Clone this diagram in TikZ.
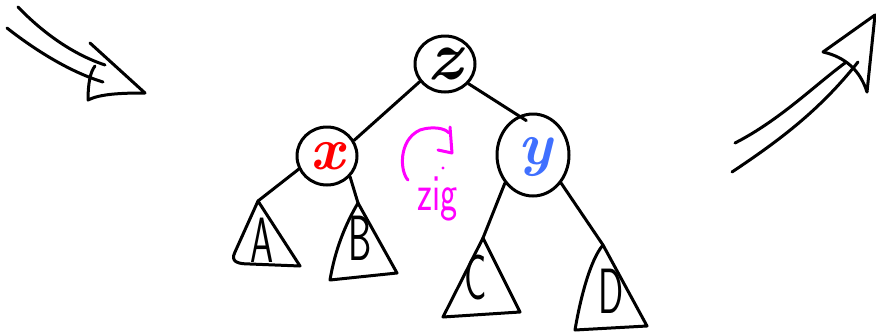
\documentclass[tikz,border=0pt]{standalone}
\usepackage{fontspec}
\usetikzlibrary{shapes.geometric}
\definecolor{xred}{RGB}{255,0,0}
\definecolor{yblue}{RGB}{64,112,255}
\definecolor{zigm}{RGB}{255,0,255}
\begin{document}
\begin{tikzpicture}[x=1pt,y=-1pt,
  ink/.style={line width=3pt,line cap=round,line join=round},
  treenode/.style={ellipse,draw,ink,inner sep=0pt},
  letter/.style={font=\fontsize{60}{60}\selectfont\bfseries\itshape,inner sep=0pt},
  lbl/.style={font=\fontsize{64}{64}\selectfont\sffamily,xscale=0.58,inner sep=0pt},
  edge/.style={ink}]
\useasboundingbox (0,0) rectangle (876,335);

% tree nodes
\node[treenode,minimum width=60pt,minimum height=56pt] (z) at (445,64) {};
\node[letter,font=\fontsize{70}{70}\selectfont\bfseries\itshape] (zl) at (445,64) {z};
\node[treenode,minimum width=60pt,minimum height=58pt] (x) at (327,156) {};
\node[letter,text=xred] (xl) at (327,156) {x};
\node[treenode,minimum width=72pt,minimum height=82pt] (y) at (533,155) {};
\node[letter,text=yblue] (yl) at (535,157) {y};

% subtree labels
\node[lbl] (A) at (262,240) {A};
\node[lbl] (B) at (360,238) {B};
\node[lbl] (C) at (476,278) {C};
\node[lbl] (D) at (611,291) {D};

% triangle apexes
\coordinate (Atop) at (258,201);
\coordinate (Btop) at (358,203);
\coordinate (Ctop) at (483,238);
\coordinate (Dtop) at (603,245);

% triangles
\draw[ink] (Atop) -- (235,252) .. controls (230,262) and (238,264) .. (250,264) -- (300,266) -- cycle;
\draw[ink] (Btop) .. controls (345,225) and (335,250) .. (330,280) -- (397,273) -- cycle;
\draw[ink] (Ctop) -- (443,317) -- (520,312) -- cycle;
\draw[ink] (Dtop) .. controls (590,260) and (580,300) .. (575,330) -- (647,326) -- cycle;

% edges
\draw[edge] (z.215) -- (x.30);
\draw[edge,shorten >=-9pt] (z.320) -- (y.110);
\draw[edge] (x.205) -- (Atop);
\draw[edge] (x.318) -- (Btop);
\draw[edge] (y.225) -- (Ctop);
\draw[edge] (y.315) -- (Dtop);

% zig annotation
\draw[ink,zigm] (408,180) .. controls (400,172) and (398,140) .. (420,130)
  .. controls (432,126) and (445,128) .. (449,133);
\draw[ink,zigm] (450,127) -- (452,153);
\draw[ink,zigm] (438,150) -- (452,153);
\fill[zigm] (443,168) circle (1.6);
\node[font=\fontsize{52}{52}\selectfont\sffamily,text=zigm,xscale=0.7,inner sep=0pt] (zig) at (438,199) {zig};

% left big arrow
\draw[ink] (18,7) .. controls (45,35) and (75,55) .. (105,65);
\draw[ink] (7,28) .. controls (35,50) and (70,72) .. (103,82);
\draw[ink] (90,43) -- (145,93) .. controls (120,93) and (100,94) .. (88,100)
  .. controls (88,85) and (90,72) .. (95,66);

% right big arrow
\draw[ink] (732,172) .. controls (780,140) and (820,110) .. (858,62);
\draw[ink] (735,143) .. controls (780,120) and (815,85) .. (845,63);
\draw[ink] (823,52) -- (875,15) -- (867,92);
\draw[ink] (823,52) .. controls (845,57) and (860,70) .. (867,92);
\end{tikzpicture}
\end{document}
